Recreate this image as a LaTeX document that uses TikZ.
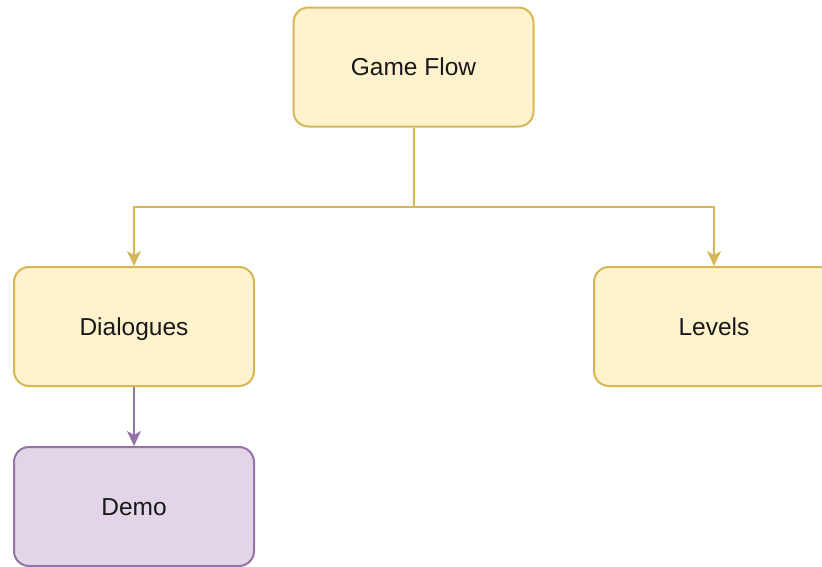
\documentclass[tikz,border=0pt]{standalone}
\usepackage{fontspec}
\setmainfont{Liberation Sans}
\usetikzlibrary{arrows.meta}
\definecolor{yfill}{HTML}{FFF2CC}
\definecolor{ydraw}{HTML}{D6B656}
\definecolor{pfill}{HTML}{E1D5E7}
\definecolor{pdraw}{HTML}{9673A6}
\begin{document}
\begin{tikzpicture}[x=1pt,y=-1pt,
  box/.style={draw, line width=2pt, rounded corners=15pt, minimum width=240pt, minimum height=119pt, inner sep=0pt, text height=17.5pt, text depth=0pt, font=\fontsize{24.5}{29}\selectfont, text=black!90},
  ybox/.style={box, draw=ydraw, fill=yfill},
  pbox/.style={box, draw=pdraw, fill=pfill},
  conn/.style={line width=2pt, -{Stealth[length=15pt,width=14pt,inset=4pt]}}]
\useasboundingbox (0,0) rectangle (822,566);
\clip (0,0) rectangle (822,566);
\node[ybox] (game) at (413.5,67) {Game Flow};
\node[ybox] (dia) at (134,326.5) {Dialogues};
\node[ybox] (lev) at (714,326.5) {Levels};
\node[pbox] (demo) at (134,506.5) {Demo};
\coordinate (mid) at (413.5,207);
\draw[conn, draw=ydraw] (game.south) -- (mid) -| (dia.north);
\draw[conn, draw=ydraw] (mid) -| (lev.north);
\draw[conn, draw=pdraw] (dia.south) -- (demo.north);
\end{tikzpicture}
\end{document}
